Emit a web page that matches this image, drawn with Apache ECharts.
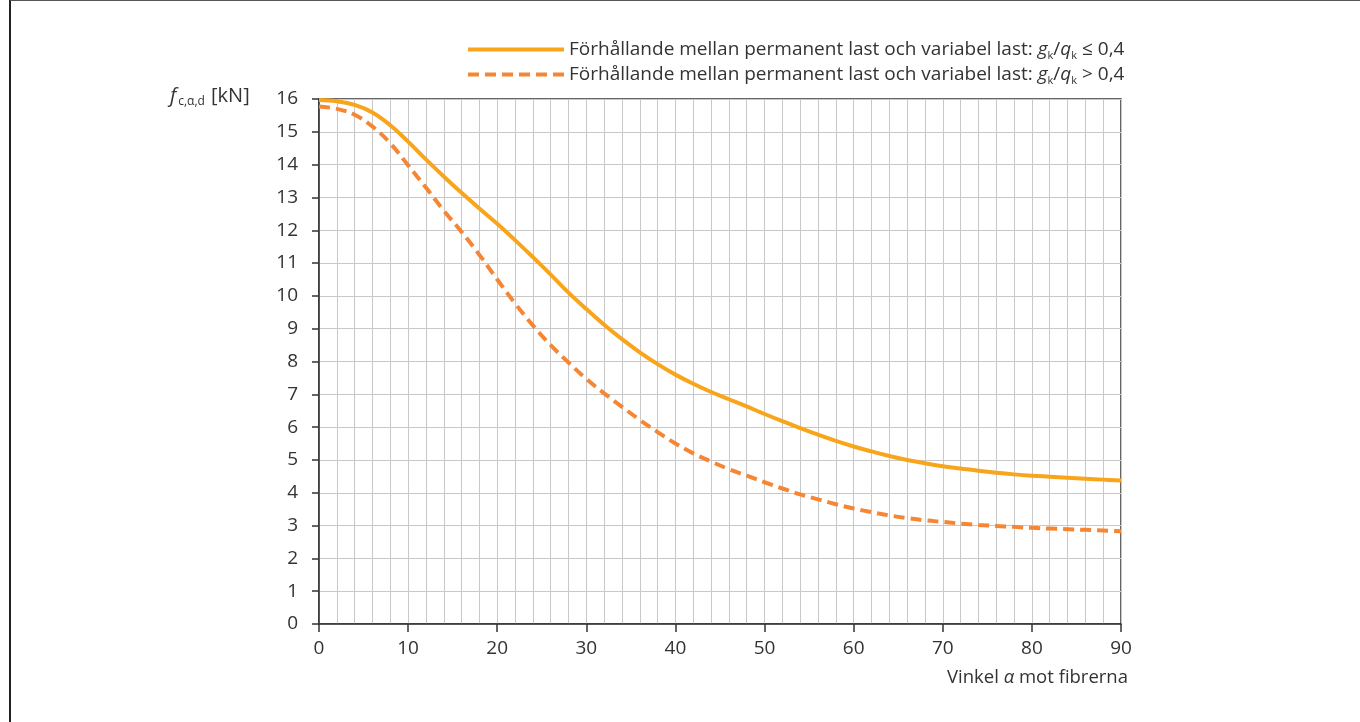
<!DOCTYPE html>
<html>
<head>
<meta charset="utf-8">
<script src="https://cdn.jsdelivr.net/npm/echarts@6/dist/echarts.min.js"></script>
<style>
  html, body { margin: 0; padding: 0; background: #fff; }
  #frame { position: absolute; left: 9px; top: 0; width: 1351px; height: 722px;
           border-top: 1px solid #555; border-left: 2px solid #222; box-sizing: border-box; }
  #chartDom { position: absolute; left: 0; top: 0; width: 1360px; height: 722px; }
</style>
</head>
<body>
<div id="frame"></div>
<div id="chartDom"></div>
<script>
// vinkel mot fibrerna (grader)
var vinkel = [0, 2, 4, 6, 8, 10, 12, 14, 16, 18, 20, 22, 24, 26, 28, 30, 32, 34, 36, 38, 40,
  42, 44, 46, 48, 50, 52, 54, 56, 58, 60, 62, 64, 66, 68, 70, 72, 74, 76, 78, 80, 82, 84, 86, 88, 90];
// gk/qk <= 0,4
var lagLast = [15.97, 15.93, 15.82, 15.59, 15.2, 14.7, 14.16, 13.64, 13.14, 12.66, 12.2, 11.7,
  11.18, 10.65, 10.1, 9.6, 9.12, 8.68, 8.28, 7.92, 7.6, 7.32, 7.07, 6.85, 6.63, 6.4, 6.18, 5.97,
  5.77, 5.58, 5.41, 5.26, 5.12, 5.0, 4.9, 4.81, 4.74, 4.67, 4.61, 4.56, 4.52, 4.49, 4.46, 4.43, 4.4, 4.37];
// gk/qk > 0,4
var hogLast = [15.77, 15.7, 15.52, 15.16, 14.65, 13.98, 13.3, 12.6, 11.95, 11.25, 10.5, 9.77,
  9.1, 8.5, 7.97, 7.47, 7.03, 6.62, 6.22, 5.85, 5.5, 5.2, 4.95, 4.72, 4.52, 4.32, 4.13, 3.95,
  3.8, 3.65, 3.52, 3.41, 3.31, 3.23, 3.16, 3.11, 3.06, 3.02, 2.99, 2.96, 2.93, 2.91, 2.89, 2.87, 2.85, 2.83];

var namn1 = 'Förhållande mellan permanent last och variabel last: {i|g}{s|k}{n|/}{i|q}{s|k}{n| ≤ 0,4}';
var namn2 = 'Förhållande mellan permanent last och variabel last: {i|g}{s|k}{n|/}{i|q}{s|k}{n| > 0,4}';

var font = 'Open Sans';
var textCol = '#333';
var gulOrange = '#F9A51B';
var orange = '#F58634';

function pairs(xs, ys) {
  return xs.map(function (x, i) { return [x, ys[i]]; });
}

var myChart = echarts.init(document.getElementById('chartDom'));

var option = {
  backgroundColor: 'transparent',
  animation: false,
  textStyle: { fontFamily: font, color: textCol },
  grid: { left: 319, right: 239, top: 99, bottom: 98, show: true, borderColor: '#333', borderWidth: 1.5 },
  legend: {
    orient: 'vertical',
    left: 461, top: 35,
    itemWidth: 96, itemHeight: 14, itemGap: 4,
    itemStyle: { opacity: 0 },
    lineStyle: { width: 4 },
    data: [namn1, namn2],
    textStyle: {
      fontFamily: font, fontSize: 19, color: textCol,
      rich: {
        i: { fontFamily: font, fontSize: 19, fontStyle: 'italic', color: textCol },
        s: { fontFamily: font, fontSize: 11, color: textCol, padding: [12, 0, 0, 0] },
        n: { fontFamily: font, fontSize: 19, color: textCol }
      }
    }
  },
  xAxis: {
    type: 'value', min: 0, max: 90, interval: 10,
    axisLine: { show: true, lineStyle: { color: '#333', width: 1.5 } },
    axisTick: { show: true, length: 8, lineStyle: { color: '#333', width: 1.5 } },
    axisLabel: { fontSize: 19, color: textCol, margin: 15, fontFamily: font },
    splitLine: { show: true, lineStyle: { color: '#c8c8c8', width: 1 } },
    minorTick: { show: false, splitNumber: 5 },
    minorSplitLine: { show: true, lineStyle: { color: '#c8c8c8', width: 1 } }
  },
  yAxis: {
    type: 'value', min: 0, max: 16, interval: 1,
    axisLine: { show: true, lineStyle: { color: '#333', width: 1.5 } },
    axisTick: { show: true, length: 7, lineStyle: { color: '#333', width: 1.5 } },
    axisLabel: { fontSize: 19, color: textCol, margin: 21, fontFamily: font },
    splitLine: { show: true, lineStyle: { color: '#c8c8c8', width: 1 } }
  },
  graphic: [
    {
      type: 'text', left: 170, top: 86,
      style: {
        text: '{i|f}{s|c,α,d}{n| [kN]}',
        rich: {
          i: { fontFamily: font, fontSize: 20, fontStyle: 'italic', fill: textCol },
          s: { fontFamily: font, fontSize: 12, fill: textCol, padding: [12, 1, 0, 2] },
          n: { fontFamily: font, fontSize: 20, fill: textCol }
        }
      }
    },
    {
      type: 'text', right: 232, top: 668,
      style: {
        text: '{n|Vinkel }{i|α}{n| mot fibrerna}',
        rich: {
          i: { fontFamily: font, fontSize: 18.5, fontStyle: 'italic', fill: textCol },
          n: { fontFamily: font, fontSize: 18.5, fill: textCol }
        }
      }
    }
  ],
  series: [
    {
      name: namn1, type: 'line', smooth: 0.4, symbol: 'none',
      data: pairs(vinkel, lagLast),
      lineStyle: { color: gulOrange, width: 4 },
      itemStyle: { color: gulOrange }
    },
    {
      name: namn2, type: 'line', smooth: 0.4, symbol: 'none',
      data: pairs(vinkel, hogLast),
      lineStyle: { color: orange, width: 4, type: [11, 6] },
      itemStyle: { color: orange }
    }
  ]
};

myChart.setOption(option);
</script>
</body>
</html>
